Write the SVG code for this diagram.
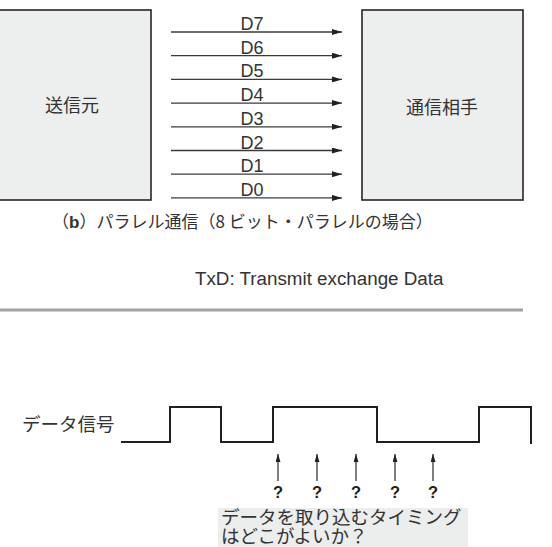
<svg xmlns="http://www.w3.org/2000/svg" width="552" height="547" viewBox="0 0 552 547">
<style>
.box{fill:#edeeee;stroke:#2b2422;stroke-width:1.6}
.jp{font-family:"Noto Sans CJK JP","Noto Sans",sans-serif;fill:#333}
.lbl{font-family:"Liberation Sans","Noto Sans",sans-serif;font-size:18px;fill:#333;text-anchor:middle}
.bus{stroke:#3a3a3a;stroke-width:1.3;fill:none}
.sig{stroke:#231f20;stroke-width:2;fill:none}
.up{stroke:#3a3a3a;stroke-width:1.3;fill:none}
.q{font-family:"Liberation Sans",sans-serif;font-weight:bold;font-size:16.5px;fill:#231f20;text-anchor:middle}
</style>
<defs>
<marker id="ah" viewBox="0 0 10 6" refX="10" refY="3" markerWidth="10" markerHeight="6" markerUnits="userSpaceOnUse" orient="auto">
<path d="M0,0 L10,3 L0,6 z" fill="#231f20"/>
</marker>
<marker id="ahu" viewBox="0 0 8 5" refX="8" refY="2.5" markerWidth="8" markerHeight="5" markerUnits="userSpaceOnUse" orient="auto">
<path d="M0,0 L8,2.5 L0,5 z" fill="#231f20"/>
</marker>
</defs>
<rect width="552" height="547" fill="#fff"/>
<g id="sender">
<rect class="box" x="-2" y="10" width="153" height="190"/>
<text class="jp" x="72" y="112" font-size="18" text-anchor="middle">送信元</text>
</g>
<g id="receiver">
<rect class="box" x="362" y="10" width="161" height="190"/>
<text class="jp" x="442" y="114" font-size="18" text-anchor="middle">通信相手</text>
</g>
<g id="connectors">
<line class="bus" x1="171" y1="32" x2="342" y2="32" marker-end="url(#ah)"/>
<line class="bus" x1="171" y1="55.7" x2="342" y2="55.7" marker-end="url(#ah)"/>
<line class="bus" x1="171" y1="79.4" x2="342" y2="79.4" marker-end="url(#ah)"/>
<line class="bus" x1="171" y1="103.1" x2="342" y2="103.1" marker-end="url(#ah)"/>
<line class="bus" x1="171" y1="126.8" x2="342" y2="126.8" marker-end="url(#ah)"/>
<line class="bus" x1="171" y1="150.5" x2="342" y2="150.5" marker-end="url(#ah)"/>
<line class="bus" x1="171" y1="174.2" x2="342" y2="174.2" marker-end="url(#ah)"/>
<line class="bus" x1="171" y1="197.9" x2="342" y2="197.9" marker-end="url(#ah)"/>
</g>
<g id="bus-labels">
<text class="lbl" x="252" y="30">D7</text>
<text class="lbl" x="252" y="53.7">D6</text>
<text class="lbl" x="252" y="77.4">D5</text>
<text class="lbl" x="252" y="101.1">D4</text>
<text class="lbl" x="252" y="124.8">D3</text>
<text class="lbl" x="252" y="148.5">D2</text>
<text class="lbl" x="252" y="172.2">D1</text>
<text class="lbl" x="252" y="195.9">D0</text>
</g>
<g id="caption">
<text class="jp" x="52" y="228" font-size="17">（<tspan font-family="Liberation Sans" font-weight="bold">b</tspan>）パラレル通信（8 ビット・パラレルの場合）</text>
</g>
<g id="note">
<text x="195" y="285" font-family="Liberation Sans, sans-serif" font-size="18.8" fill="#333">TxD: Transmit exchange Data</text>
</g>
<line x1="0" y1="310" x2="523" y2="310" stroke="#a3a3a3" stroke-width="3"/>
<g id="signal-label">
<text class="jp" x="22" y="431" font-size="18.5">データ信号</text>
</g>
<g id="waveform">
<path class="sig" d="M121,442 H170 V407 H221 V442 H273 V407 H377 V442 H479 V407 H531 V444"/>
</g>
<g id="sample-arrows">
<line class="up" x1="278" y1="481" x2="278" y2="454" marker-end="url(#ahu)"/>
<line class="up" x1="317" y1="481" x2="317" y2="454" marker-end="url(#ahu)"/>
<line class="up" x1="356" y1="481" x2="356" y2="454" marker-end="url(#ahu)"/>
<line class="up" x1="395" y1="481" x2="395" y2="454" marker-end="url(#ahu)"/>
<line class="up" x1="433" y1="481" x2="433" y2="454" marker-end="url(#ahu)"/>
<text class="q" x="278" y="498">?</text>
<text class="q" x="317" y="498">?</text>
<text class="q" x="356" y="498">?</text>
<text class="q" x="395" y="498">?</text>
<text class="q" x="433" y="498">?</text>
</g>
<g id="question">
<rect x="218" y="508" width="250" height="39" fill="#eceded"/>
<text class="jp" font-size="18.5"><tspan x="221" y="524">データを取り込むタイミング</tspan><tspan x="221" y="543">はどこがよいか？</tspan></text>
</g>
</svg>
